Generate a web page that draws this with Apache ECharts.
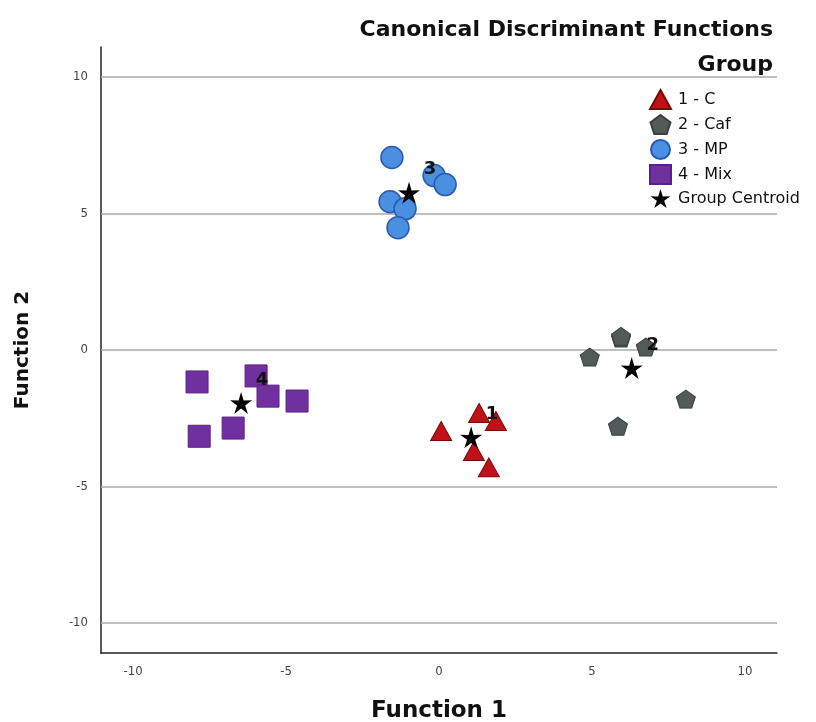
<!DOCTYPE html>
<html><head><meta charset="utf-8">
<script src="https://cdn.jsdelivr.net/npm/echarts@6/dist/echarts.min.js"></script>
<style>html,body{margin:0;padding:0;background:#fff}#c{width:816px;height:722px}</style>
</head><body><div id="c"></div>
<script>
const groupNames = ['1 - C', '2 - Caf', '3 - MP', '4 - Mix'];
const centroidName = 'Group Centroid';
const xTicks = [-10, -5, 0, 5, 10];
const yTicks = [-10, -5, 0, 5, 10];
const groupC   = [[0.07,-2.97],[1.31,-2.31],[1.86,-2.6],[1.14,-3.7],[1.63,-4.3]];
const groupCaf = [[4.93,-0.26],[5.95,0.44],[5.95,0.5],[6.76,0.11],[8.07,-1.8],[5.85,-2.79]];
const groupMP  = [[-1.54,7.05],[-0.16,6.39],[0.2,6.06],[-1.6,5.43],[-1.11,5.17],[-1.34,4.48]];
const groupMix = [[-7.91,-1.17],[-5.98,-0.95],[-5.59,-1.69],[-4.64,-1.87],[-6.73,-2.86],[-7.84,-3.16]];
const centroids = [[1.05,-3.2,'1'],[6.3,-0.66,'2'],[-0.98,5.76,'3'],[-6.47,-1.94,'4']];

const starPath = 'path://M0 -10 L2.2 -2.9 L9.51 -3.09 L3.5 1.1 L5.88 8.09 L0 3.7 L-5.88 8.09 L-3.5 1.1 L-9.51 -3.09 L-2.2 -2.9 Z';
const pentPath = 'path://M0 -10 L9.51 -3.09 L5.88 8.09 L-5.88 8.09 L-9.51 -3.09 Z';
const boldFont = 'DejaVu Sans';
const tickFont = 'DejaVu Sans Condensed, Liberation Sans, sans-serif';

const chart = echarts.init(document.getElementById('c'));
chart.setOption({
  animation: false,
  backgroundColor: '#fff',
  title: [
    {text: 'Canonical Discriminant Functions', right: 38, top: 14,
     textStyle: {fontFamily: boldFont, fontSize: 22, fontWeight: 'bold', color: '#111'}},
    {text: 'Group', right: 38, top: 49,
     textStyle: {fontFamily: boldFont, fontSize: 22, fontWeight: 'bold', color: '#111'}}
  ],
  legend: {
    orient: 'vertical', left: 644, top: 84, itemGap: 4, itemWidth: 21, itemHeight: 19,
    textStyle: {fontFamily: boldFont, fontSize: 16, color: '#111', padding: [0,0,0,2]},
    data: [
      {name: groupNames[0]}, {name: groupNames[1]}, {name: groupNames[2]}, {name: groupNames[3]}, {name: centroidName}
    ]
  },
  grid: {left: 101, right: 39, top: 47, bottom: 69, containLabel: false, outerBoundsMode: 'none'},
  xAxis: {
    type: 'value', min: -11.05, max: 11.05,
    name: 'Function 1', nameLocation: 'middle', nameGap: 47,
    nameTextStyle: {fontFamily: boldFont, fontSize: 23, fontWeight: 'bold', color: '#111'},
    axisLine: {show: true, onZero: false, lineStyle: {color: '#222', width: 1.5}},
    axisTick: {show: false}, splitLine: {show: false},
    axisLabel: {fontFamily: tickFont, fontSize: 13, color: '#444', margin: 12,
      customValues: xTicks, formatter: v => String(v)},
  },
  yAxis: {
    type: 'value', min: -11.1, max: 11.1,
    name: 'Function 2', nameLocation: 'middle', nameGap: 68, nameRotate: 90,
    nameTextStyle: {fontFamily: boldFont, fontSize: 20, fontWeight: 'bold', color: '#111'},
    axisLine: {show: true, onZero: false, lineStyle: {color: '#222', width: 1.5}},
    axisTick: {show: false},
    axisLabel: {fontFamily: tickFont, fontSize: 13, color: '#444', margin: 13,
      customValues: yTicks, formatter: v => String(v)},
    splitLine: {show: false}
  },
  series: [
    {name: groupNames[0], type: 'scatter', data: groupC, symbol: 'triangle', symbolSize: [21, 19], z: 3,
     itemStyle: {color: '#C01018', borderColor: '#7a0a0a', borderWidth: 1, opacity: 1},
     markLine: {silent: true, symbol: 'none', label: {show: false}, z: 1,
       lineStyle: {color: '#aaa', width: 1.5, type: 'solid'},
       data: yTicks.map(v => ({yAxis: v}))}},
    {name: groupNames[1], type: 'scatter', data: groupCaf, symbol: pentPath, symbolSize: [19, 18], z: 3,
     itemStyle: {color: '#525a5a', borderColor: '#3a3f3f', borderWidth: 1, opacity: 1}},
    {name: groupNames[2], type: 'scatter', data: groupMP, symbol: 'circle', symbolSize: 22, z: 3,
     itemStyle: {color: '#4b8fe0', borderColor: '#2a5ab0', borderWidth: 1.5, opacity: 1}},
    {name: groupNames[3], type: 'scatter', data: groupMix, symbol: 'rect', symbolSize: 22, z: 3,
     itemStyle: {color: '#7030a0', borderColor: '#5a2088', borderWidth: 1, opacity: 1}},
    {name: centroidName, type: 'scatter', data: centroids, symbol: starPath, symbolSize: 22, z: 5,
     itemStyle: {color: '#000', opacity: 1},
     label: {show: true, formatter: p => p.value[2], position: 'inside', offset: [21, -23],
       fontFamily: boldFont, fontSize: 18, fontWeight: 'bold', color: '#111'}}
  ]
});
</script></body></html>
